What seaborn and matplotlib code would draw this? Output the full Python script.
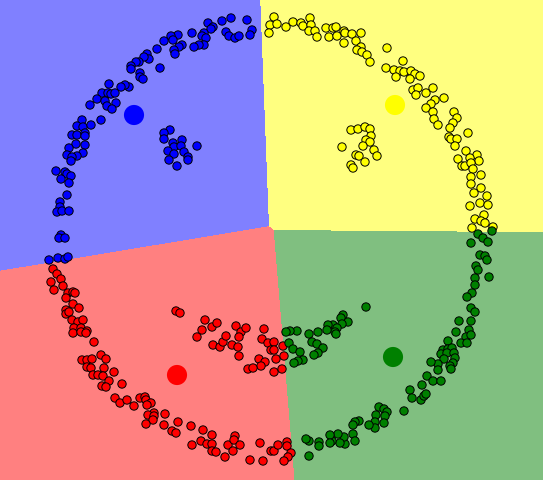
import numpy as np
import pandas as pd
import matplotlib
matplotlib.use('Agg')
import matplotlib.pyplot as plt
import seaborn as sns
from matplotlib.colors import ListedColormap

# k-means result: 4 clusters (pixel coords, y down)
cluster_names = ['blue', 'yellow', 'red', 'green']
point_colors = ['#0000ff', '#ffff00', '#ff0000', '#008000']
region_colors = ['#8080ff', '#ffff80', '#ff8080', '#80bf80']

centroid_x = [134, 395, 177, 393]
centroid_y = [115, 105, 375, 357]

blue_pts = [
    (247, 20), (231, 18), (222, 21), (208, 23), (213, 27), (211, 29), (252, 30), (250, 35),
    (226, 32), (229, 36), (235, 38), (239, 36), (204, 33), (202, 36), (206, 38), (192, 33),
    (178, 35), (171, 36), (173, 40), (204, 45), (199, 45), (194, 47), (182, 45), (179, 47),
    (174, 50), (175, 54), (164, 41), (157, 49), (147, 54), (149, 59), (144, 57), (139, 62),
    (136, 62), (131, 66), (131, 69), (160, 68), (140, 73), (140, 77), (143, 79), (129, 87),
    (125, 85), (121, 87), (109, 84), (102, 93), (108, 93), (111, 94), (115, 93), (97, 99),
    (105, 101), (116, 103), (107, 106), (112, 109), (90, 105), (101, 120), (82, 120), (77, 126),
    (83, 127), (91, 125), (72, 135), (77, 135), (85, 133), (85, 136), (76, 144), (85, 145),
    (69, 148), (67, 155), (83, 153), (77, 156), (72, 157), (71, 161), (56, 171), (65, 172),
    (67, 174), (71, 176), (61, 179), (69, 183), (67, 195), (60, 202), (60, 207), (57, 212),
    (62, 211), (69, 211), (61, 235), (59, 238), (65, 238), (49, 260), (58, 258), (65, 259),
    (68, 257),
    # inner arc
    (170, 130), (164, 133), (164, 139), (173, 143), (174, 147), (182, 140), (181, 146),
    (197, 146), (168, 151), (174, 154), (184, 152), (188, 157), (188, 160), (169, 160),
    (177, 166),
]

yellow_pts = [
    (270, 25), (269, 33), (274, 17), (277, 24), (286, 27), (293, 22), (301, 23), (303, 26),
    (310, 18), (311, 25), (309, 31), (315, 31), (317, 37), (326, 28), (333, 28), (336, 27),
    (329, 37), (337, 36), (344, 31), (345, 33), (352, 34), (361, 33), (344, 43), (356, 41),
    (361, 47), (357, 50), (362, 52), (367, 55), (370, 62), (387, 48), (403, 61), (386, 68),
    (394, 70), (400, 71), (404, 72), (396, 77), (411, 71), (415, 74), (420, 76), (410, 79),
    (413, 90), (418, 88), (416, 95), (426, 93), (433, 88), (444, 98), (435, 100), (431, 104),
    (426, 108), (433, 112), (434, 119), (438, 125), (454, 112), (457, 118), (453, 123),
    (450, 128), (468, 133), (449, 137), (451, 139), (457, 139), (455, 146), (466, 151),
    (477, 155), (470, 158), (458, 159), (479, 161), (462, 166), (465, 166), (471, 163),
    (473, 169), (481, 175), (471, 177), (471, 184), (481, 188), (474, 193), (487, 196),
    (480, 203), (488, 205), (470, 206), (484, 215), (475, 219), (481, 221), (485, 223),
    (472, 228), (493, 227),
    # inner arc
    (351, 130), (358, 129), (365, 127), (370, 129), (371, 136), (366, 140), (370, 142),
    (363, 146), (342, 147), (374, 150), (356, 155), (359, 156), (377, 156), (365, 162),
    (351, 165), (353, 168),
]

red_pts = [
    (53, 269), (57, 274), (61, 279), (51, 282), (63, 286), (54, 290), (68, 293), (73, 292),
    (75, 293), (66, 298), (73, 304), (79, 308), (66, 310), (66, 314), (69, 312), (72, 320),
    (78, 322), (83, 320), (74, 328), (81, 328), (87, 331), (73, 333), (81, 332), (86, 333),
    (94, 342), (101, 355), (106, 359), (82, 360), (87, 360), (92, 359), (87, 367), (91, 368),
    (104, 368), (114, 372), (93, 375), (98, 375), (103, 376), (109, 381), (122, 384),
    (102, 386), (106, 387), (115, 398), (120, 403), (127, 400), (134, 406), (140, 398),
    (145, 397), (146, 400), (151, 403), (147, 405), (154, 413), (148, 415), (154, 416),
    (153, 420), (165, 414), (146, 424), (164, 425), (178, 422), (172, 431), (176, 433),
    (191, 426), (203, 430), (212, 435), (201, 441), (207, 444), (212, 444), (192, 445),
    (212, 451), (216, 452), (225, 457), (228, 445), (235, 436), (234, 440), (240, 445),
    (233, 451), (250, 460), (260, 443), (263, 461), (271, 451), (274, 451), (278, 445),
    (287, 442), (287, 446), (291, 453), (288, 457), (284, 461),
    # inner arc
    (176, 311), (180, 313), (205, 320), (202, 330), (197, 337), (212, 327), (217, 323),
    (213, 345), (220, 347), (223, 342), (226, 336), (232, 345), (236, 326), (241, 332),
    (246, 328), (239, 337), (238, 347), (239, 356), (264, 329), (262, 339), (268, 343),
    (259, 359), (265, 362), (261, 366), (248, 369), (253, 368), (271, 350), (274, 342),
    (283, 346), (274, 350), (276, 359), (284, 356), (274, 372), (282, 369),
]

green_pts = [
    (478, 234), (483, 238), (492, 231), (471, 243), (488, 242), (480, 255), (485, 256),
    (487, 260), (476, 266), (478, 270), (489, 277), (475, 278), (475, 285), (472, 293),
    (467, 297), (471, 308), (475, 312), (459, 321), (471, 321), (456, 332), (469, 330),
    (466, 337), (471, 335), (448, 341), (461, 343), (467, 343), (443, 350), (448, 349),
    (452, 348), (441, 354), (447, 353), (454, 353), (455, 358), (444, 359), (453, 363),
    (450, 366), (451, 369), (438, 364), (431, 362), (438, 370), (427, 376), (433, 381),
    (441, 381), (422, 385), (410, 390), (412, 398), (421, 400), (424, 396), (426, 394),
    (404, 411), (379, 407), (384, 409), (387, 412), (376, 415), (385, 416), (375, 422),
    (384, 423), (375, 428), (369, 425), (359, 421), (355, 422), (353, 425), (353, 434),
    (355, 441), (345, 444), (344, 437), (338, 434), (340, 443), (332, 441), (330, 435),
    (330, 443), (319, 442), (319, 446), (309, 441), (306, 439), (309, 456),
    # inner arc
    (366, 307), (343, 315), (341, 318), (348, 322), (342, 324), (333, 325), (328, 325),
    (337, 328), (335, 332), (327, 330), (336, 334), (318, 332), (309, 334), (297, 331),
    (290, 331), (286, 332), (289, 343), (312, 342), (317, 344), (323, 348), (293, 349),
    (300, 352), (318, 353), (314, 355), (303, 360), (298, 361), (294, 363),
]

frames = []
for name, pts in zip(cluster_names, [blue_pts, yellow_pts, red_pts, green_pts]):
    arr = np.array(pts)
    frames.append(pd.DataFrame({'x': arr[:, 0], 'y': arr[:, 1], 'cluster': name}))
df = pd.concat(frames, ignore_index=True)
centers = pd.DataFrame({'x': centroid_x, 'y': centroid_y, 'cluster': cluster_names})

W, H = 543, 480
fig = plt.figure(figsize=(W / 100, H / 100), dpi=100)
ax = fig.add_axes([0, 0, 1, 1])

# voronoi regions of the centroids
gx, gy = np.meshgrid(np.arange(W) + 0.5, np.arange(H) + 0.5)
d = np.stack([(gx - cx) ** 2 + (gy - cy) ** 2 for cx, cy in zip(centroid_x, centroid_y)])
labels = d.argmin(axis=0)
ax.imshow(labels, cmap=ListedColormap(region_colors), vmin=-0.5, vmax=3.5,
          extent=(0, W, H, 0), interpolation='nearest', aspect='auto')

palette = dict(zip(cluster_names, point_colors))
sns.scatterplot(data=df, x='x', y='y', hue='cluster', palette=palette, s=36,
                edgecolor='black', linewidth=0.7, legend=False, ax=ax, zorder=3)
sns.scatterplot(data=centers, x='x', y='y', hue='cluster', palette=palette, s=210,
                linewidth=0, legend=False, ax=ax, zorder=4)

ax.set_xlim(0, W)
ax.set_ylim(H, 0)
ax.axis('off')
fig.savefig('out.png', dpi=100)
